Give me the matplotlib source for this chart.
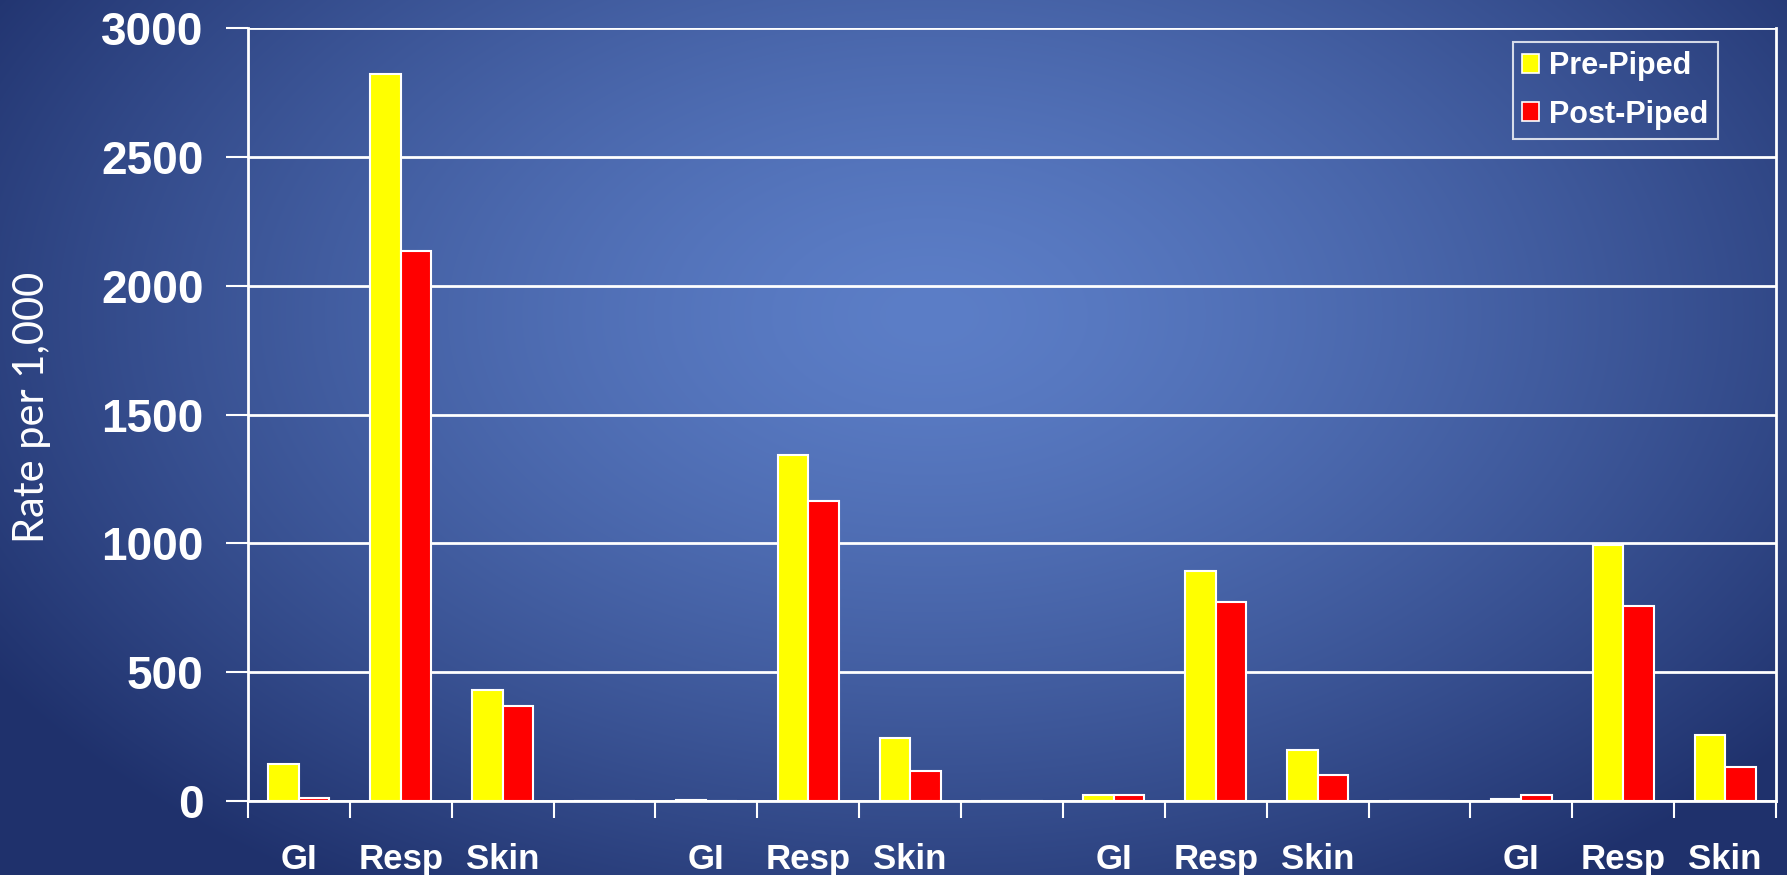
import numpy as np
import matplotlib
matplotlib.use("Agg")
import matplotlib.pyplot as plt
from matplotlib.patches import Patch

# Categories along the x axis (blank slots separate the four groups)
categories = ["GI", "Resp", "Skin", "",
              "GI", "Resp", "Skin", "",
              "GI", "Resp", "Skin", "",
              "GI", "Resp", "Skin"]
pre_piped = [142, 2823, 429, 0,
             5, 1341, 243, 0,
             22, 893, 199, 0,
             8, 995, 257]
post_piped = [13, 2135, 367, 0,
              0, 1163, 115, 0,
              22, 773, 102, 0,
              22, 757, 133]
series_names = ["Pre-Piped", "Post-Piped"]
yticks = [0, 500, 1000, 1500, 2000, 2500, 3000]

W, H = 1787, 875
fig = plt.figure(figsize=(W / 100, H / 100), dpi=100)

# Radial blue gradient background
bg = fig.add_axes([0, 0, 1, 1], zorder=-10)
yy, xx = np.mgrid[0:H, 0:W]
cx, cy = 0.52 * W, 0.36 * H
r = np.sqrt(((xx - cx) / (0.62 * W)) ** 2 + ((yy - cy) / (0.78 * H)) ** 2)
r = np.clip(r, 0, 1)
inner = np.array([0x5c, 0x7e, 0xc7]) / 255
outer = np.array([0x1f, 0x31, 0x6c]) / 255
t = r ** 1.4
img = inner[None, None, :] * (1 - t[..., None]) + outer[None, None, :] * t[..., None]
bg.imshow(img, aspect="auto", extent=[0, 1, 0, 1], origin="upper")
bg.axis("off")

ax = fig.add_axes([248 / W, 74 / H, (1776 - 248) / W, (801 - 28) / H])
ax.patch.set_alpha(0)

x = np.arange(len(categories))
bw = 0.30
ax.bar(x - bw / 2, pre_piped, bw, color="#FFFF00", edgecolor="white",
       linewidth=1.5, label=series_names[0], zorder=3)
ax.bar(x + bw / 2, post_piped, bw, color="#FF0000", edgecolor="white",
       linewidth=1.5, label=series_names[1], zorder=3)

ax.set_xlim(-0.5, len(categories) - 0.5)
ax.set_ylim(0, 3000)
ax.set_yticks(yticks)
ax.set_yticklabels([str(v) for v in yticks])
ax.yaxis.grid(True, color="white", linewidth=2, zorder=1)
ax.set_axisbelow(True)

# Major ticks at slot boundaries, labels centered in each slot
ax.set_xticks(np.arange(len(categories) + 1) - 0.5)
ax.set_xticklabels([])
ax.set_xticks(x, minor=True)
ax.set_xticklabels(categories, minor=True)
ax.tick_params(axis="x", which="minor", length=0, pad=30, labelsize=25,
               labelcolor="white")
ax.tick_params(axis="x", which="major", direction="out", length=12,
               width=1.5, color="white")
ax.tick_params(axis="y", direction="out", length=16, width=1.5,
               color="white", labelcolor="white", labelsize=33, pad=16)
for lbl in ax.get_xticklabels(minor=True) + ax.get_yticklabels():
    lbl.set_fontfamily("Liberation Sans")
    lbl.set_fontweight("bold")

for side in ["left", "bottom", "right"]:
    ax.spines[side].set_color("white")
    ax.spines[side].set_linewidth(2)
ax.spines["top"].set_visible(False)

fig.text(32 / W, 1 - 407 / H, "Rate per 1,000", rotation=90, color="white",
         fontsize=30, fontfamily=["Lato", "DejaVu Sans"],
         ha="center", va="center")

handles = [Patch(facecolor="#FFFF00", edgecolor="white", linewidth=1.2),
           Patch(facecolor="#FF0000", edgecolor="white", linewidth=1.2)]
leg = ax.legend(handles, series_names, loc="upper right",
                bbox_to_anchor=((1718 - 248) / (1776 - 248), (801 - 42) / (801 - 28)),
                borderaxespad=0,
                frameon=True, fancybox=False, facecolor="none",
                edgecolor="white", handlelength=0.55, handleheight=0.55,
                handletextpad=0.35, borderpad=0.3, labelspacing=0.6,
                prop={"family": "Liberation Sans", "weight": "bold", "size": 22})
leg.get_frame().set_linewidth(1.5)
for txt in leg.get_texts():
    txt.set_color("white")

fig.savefig("out.png", dpi=100)
